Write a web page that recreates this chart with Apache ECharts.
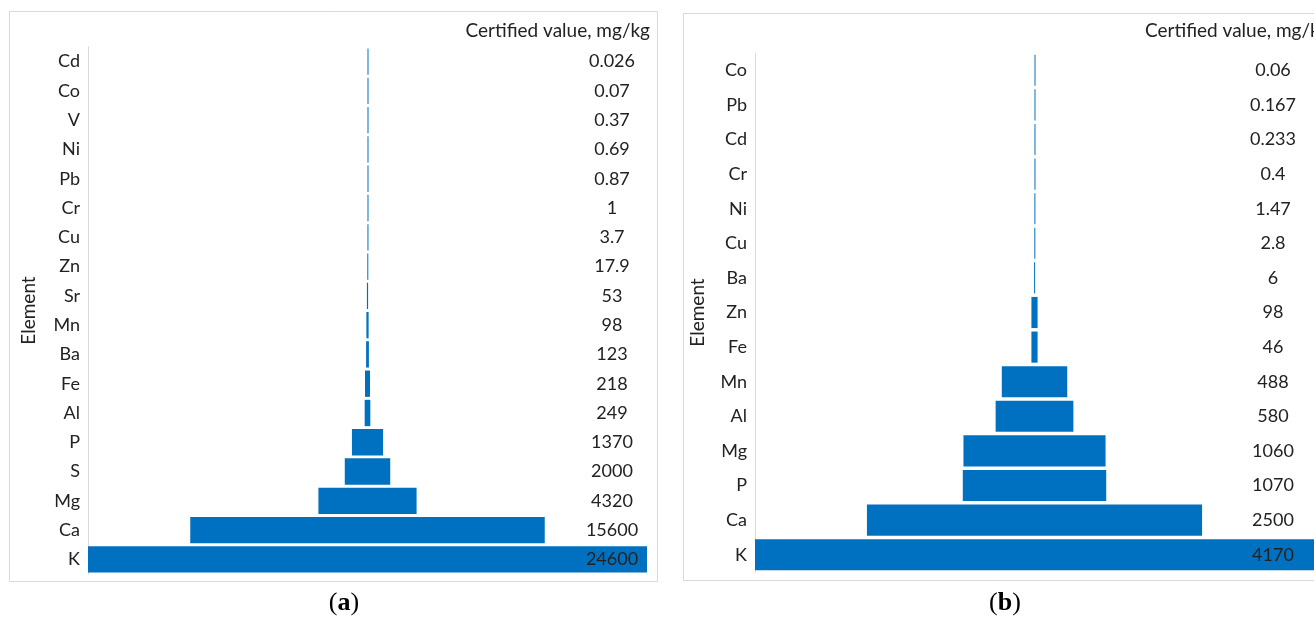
<!DOCTYPE html>
<html><head><meta charset="utf-8">
<script src="https://cdn.jsdelivr.net/npm/echarts@6/dist/echarts.min.js"></script>
<style>html,body{margin:0;padding:0;background:#fff}#c{width:1314px;height:617px}</style>
</head><body><div id="c"></div>
<script>
// Panel (a)
const elementsA = ['Cd','Co','V','Ni','Pb','Cr','Cu','Zn','Sr','Mn','Ba','Fe','Al','P','S','Mg','Ca','K'];
const valuesA = [0.026,0.07,0.37,0.69,0.87,1,3.7,17.9,53,98,123,218,249,1370,2000,4320,15600,24600];
const labelsA = ['0.026','0.07','0.37','0.69','0.87','1','3.7','17.9','53','98','123','218','249','1370','2000','4320','15600','24600'];
// Panel (b) — bar lengths (Zn bar drawn as wide as Fe)
const elementsB = ['Co','Pb','Cd','Cr','Ni','Cu','Ba','Zn','Fe','Mn','Al','Mg','P','Ca','K'];
const valuesB = [0.06,0.167,0.233,0.4,1.47,2.8,6,46,46,488,580,1060,1070,2500,4170];
const labelsB = ['0.06','0.167','0.233','0.4','1.47','2.8','6','98','46','488','580','1060','1070','2500','4170'];
const headerText = 'Certified value, mg/kg';
const axisTitle = 'Element';

const FONT = 'Lato';
const BLUE = '#0070C0';

function panel(idx, cats, vals, labels, labelCenterOffset, nameGap) {
  const max = Math.max(...vals);
  const pad = vals.map(v => (max - v) / 2);
  const xAxes = [{
    gridIndex: idx, type: 'value', min: 0, max: max, show: false
  }];
  const yAxes = [{
    gridIndex: idx, type: 'category', data: cats, inverse: true,
    axisLine: {show: true, lineStyle: {color: '#d9d9d9', width: 1}},
    axisTick: {show: false},
    axisLabel: {fontFamily: FONT, fontSize: 18, color: '#222', margin: 8},
    name: axisTitle, nameLocation: 'middle', nameGap: nameGap, nameRotate: 90,
    nameTextStyle: {fontFamily: FONT, fontSize: 19, color: '#222'},
    splitLine: {show: false}
  }, {
    gridIndex: idx, type: 'category', data: cats, inverse: true, position: 'right',
    z: 10,
    axisLine: {show: false}, axisTick: {show: false}, splitLine: {show: false},
    axisLabel: {fontFamily: FONT, fontSize: 18, color: '#222', align: 'center',
      margin: labelCenterOffset, formatter: (v, i) => labels[i]}
  }];
  const series = [{
    type: 'bar', xAxisIndex: idx, yAxisIndex: idx * 2, stack: 's' + idx, z: 1,
    data: pad, itemStyle: {color: 'rgba(0,0,0,0)'}, silent: true,
    barCategoryGap: '10%'
  }, {
    type: 'bar', xAxisIndex: idx, yAxisIndex: idx * 2, stack: 's' + idx, z: 1,
    data: vals, itemStyle: {color: BLUE}, barMinHeight: 1,
    barCategoryGap: '10%'
  }];
  return {xAxes, yAxes, series};
}

const pa = panel(0, elementsA, valuesA, labelsA, -35, 50);
const pb = panel(1, elementsB, valuesB, labelsB, -41, 48);

const chart = echarts.init(document.getElementById('c'), null, {renderer: 'canvas'});
chart.setOption({
  animation: false,
  backgroundColor: '#fff',
  grid: [
    {left: 88, top: 47, width: 559, height: 527},
    {left: 755, top: 53, width: 562, height: 519}
  ],
  xAxis: [...pa.xAxes, ...pb.xAxes],
  yAxis: [...pa.yAxes, ...pb.yAxes],
  series: [...pa.series, ...pb.series],
  graphic: [
    {type: 'rect', shape: {x: 9.5, y: 11.5, width: 648, height: 570}, style: {fill: 'none', stroke: '#d9d9d9', lineWidth: 1}, z: -1},
    {type: 'rect', shape: {x: 683.5, y: 13.5, width: 640, height: 567}, style: {fill: 'none', stroke: '#d9d9d9', lineWidth: 1}, z: -1},
    {type: 'text', x: 650, y: 31, style: {text: headerText, font: '19px ' + FONT, fill: '#222', textAlign: 'right', textVerticalAlign: 'middle'}},
    {type: 'text', x: 1145, y: 31, style: {text: headerText, font: '19px ' + FONT, fill: '#222', textAlign: 'left', textVerticalAlign: 'middle'}},
    {type: 'text', x: 344, y: 603, style: {
      text: '{n|(}{b|a}{n|)}', textAlign: 'center', textVerticalAlign: 'middle',
      rich: {n: {fontFamily: 'Liberation Serif', fontSize: 26, color: '#111'},
             b: {fontFamily: 'Liberation Serif', fontSize: 26, fontWeight: 'bold', color: '#111'}}}},
    {type: 'text', x: 1005, y: 603, style: {
      text: '{n|(}{b|b}{n|)}', textAlign: 'center', textVerticalAlign: 'middle',
      rich: {n: {fontFamily: 'Liberation Serif', fontSize: 26, color: '#111'},
             b: {fontFamily: 'Liberation Serif', fontSize: 26, fontWeight: 'bold', color: '#111'}}}}
  ]
});
</script></body></html>
